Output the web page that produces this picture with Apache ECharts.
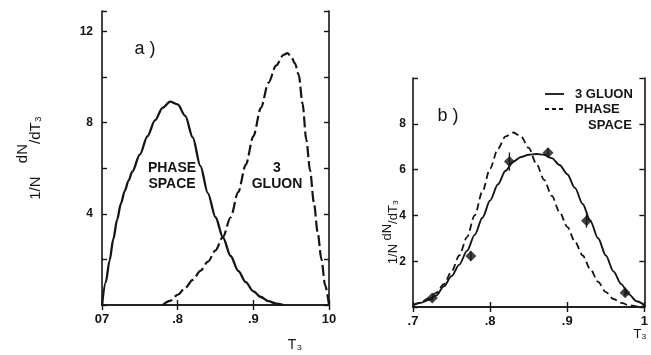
<!DOCTYPE html>
<html>
<head>
<meta charset="utf-8">
<script src="https://cdn.jsdelivr.net/npm/echarts@6/dist/echarts.min.js"></script>
<style>
html, body { margin: 0; padding: 0; background: #fff; }
#chart { width: 651px; height: 355px; }
</style>
</head>
<body>
<div id="chart"></div>
<script>
// panel a) : theory curves
const aPhaseT = [0.700, 0.705, 0.710, 0.715, 0.720, 0.725, 0.730, 0.735, 0.740, 0.750, 0.760, 0.770, 0.780, 0.790, 0.800, 0.810, 0.820, 0.830, 0.840, 0.850, 0.860, 0.870, 0.880, 0.890, 0.900, 0.910, 0.920, 0.930, 0.940]
const aPhaseY = [0, 1.0, 1.95, 2.9, 3.75, 4.45, 5.0, 5.45, 5.85, 6.6, 7.4, 8.1, 8.65, 8.92, 8.8, 8.3, 7.35, 6.1, 4.9, 3.85, 2.95, 2.15, 1.5, 1.0, 0.6, 0.35, 0.17, 0.06, 0]
const aGluonT = [0.780, 0.790, 0.800, 0.810, 0.820, 0.830, 0.840, 0.850, 0.860, 0.870, 0.880, 0.890, 0.900, 0.910, 0.920, 0.930, 0.940, 0.945, 0.950, 0.955, 0.960, 0.965, 0.970, 0.975, 0.980, 0.985, 0.990, 0.995, 1.000]
const aGluonY = [0, 0.18, 0.45, 0.75, 1.1, 1.5, 1.9, 2.4, 3.0, 3.85, 4.95, 6.15, 7.4, 8.65, 9.75, 10.5, 10.98, 11.05, 10.9, 10.6, 10.1, 8.85, 7.25, 5.9, 4.5, 3.2, 2.0, 0.85, 0]

// panel b) : theory curves and data
const bT = [0.70, 0.71, 0.72, 0.73, 0.74, 0.75, 0.76, 0.77, 0.78, 0.79, 0.80, 0.81, 0.82, 0.83, 0.84, 0.85, 0.86, 0.87, 0.88, 0.89, 0.90, 0.91, 0.92, 0.93, 0.94, 0.95, 0.96, 0.97, 0.98, 0.99, 1.00]
const bGluonY = [0.08, 0.18, 0.30, 0.50, 0.90, 1.35, 1.85, 2.45, 3.15, 3.90, 4.65, 5.35, 5.95, 6.35, 6.55, 6.65, 6.68, 6.65, 6.50, 6.20, 5.80, 5.20, 4.50, 3.75, 3.00, 2.25, 1.55, 1.00, 0.55, 0.25, 0.08]
const bPhaseY = [0.08, 0.20, 0.38, 0.62, 1.00, 1.55, 2.25, 3.05, 4.00, 5.05, 6.05, 6.90, 7.45, 7.62, 7.45, 6.95, 6.25, 5.55, 4.85, 4.15, 3.50, 2.85, 2.25, 1.65, 1.10, 0.65, 0.35, 0.18, 0.08, 0.03, 0.02]
const dataT = [0.725, 0.775, 0.825, 0.875, 0.925, 0.975]
const dataY = [0.39, 2.23, 6.35, 6.74, 3.77, 0.62]
const dataErr = [0.1, 0.2, 0.4, 0.2, 0.3, 0.15]

// tick labels
const xTicks = [0.7, 0.8, 0.9, 1.0]
const xLabelsA = ['07', '.8', '.9', '10']
const xLabelsB = ['.7', '.8', '.9', '1']
const yLabelsA = [4, 8, 12]
const yLabelsB = [2, 4, 6, 8]

const ink = '#141414'
const font = 'Liberation Sans'

const pairs = (xs, ys) => xs.map((x, i) => [x, ys[i]])

const tickLabel = (labels) => (v) => {
    const i = xTicks.findIndex(t => Math.abs(t - v) < 1e-6)
    return i >= 0 ? labels[i] : ''
}

const xAxisBase = (grid, pos, labels) => ({
    gridIndex: grid,
    type: 'value',
    position: pos,
    min: 0.7,
    max: 1.0,
    interval: 0.1,
    axisLine: { lineStyle: { color: ink, width: 1.6 } },
    axisTick: { show: true, inside: true, length: 5, lineStyle: { color: ink, width: 1.4 } },
    axisLabel: labels ? {
        formatter: tickLabel(labels),
        color: ink, fontFamily: font, fontSize: 13, fontWeight: 'bold', margin: 8
    } : { show: false },
    splitLine: { show: false }
})

const yAxisBase = (grid, pos, max, labels, margin) => ({
    gridIndex: grid,
    type: 'value',
    position: pos,
    min: 0,
    max: max,
    interval: 2,
    axisLine: { show: true, lineStyle: { color: ink, width: 1.6 } },
    axisTick: { show: true, inside: true, length: 5, lineStyle: { color: ink, width: 1.4 } },
    axisLabel: labels ? {
        formatter: (v) => labels.some(l => Math.abs(l - v) < 1e-6) ? String(v) : '',
        color: ink, fontFamily: font, fontSize: 12, fontWeight: 'bold', margin: margin,
        showMaxLabel: true
    } : { show: false },
    splitLine: { show: false }
})

const txt = (x, y, text, size, weight, align) => ({
    type: 'text', x: x, y: y,
    style: {
        text: text, fill: ink,
        font: (weight || 'bold') + ' ' + size + 'px "' + font + '"',
        align: align || 'center', verticalAlign: 'middle'
    }
})

// rotated y axis title with raised dN and lowered /dT3
const yTitle = (x, y, size, lh, gap) => ({
    type: 'text', x: x, y: y, rotation: Math.PI / 2,
    style: {
        text: '{f|1/N}' + gap + '{u|dN}{d|/dT₃}', fill: ink, align: 'center', verticalAlign: 'middle',
        rich: {
            f: { fontFamily: font, fontSize: size, fill: ink, verticalAlign: 'bottom', lineHeight: lh },
            u: { fontFamily: font, fontSize: size, fill: ink, verticalAlign: 'top', lineHeight: lh },
            d: { fontFamily: font, fontSize: size, fill: ink, verticalAlign: 'bottom', lineHeight: lh }
        }
    }
})

const chart = echarts.init(document.getElementById('chart'))
chart.setOption({
    animation: false,
    backgroundColor: '#fff',
    grid: [
        { left: 102, top: 11, width: 227, height: 294 },
        { left: 413, top: 78, width: 233, height: 229 }
    ],
    xAxis: [
        xAxisBase(0, 'bottom', xLabelsA),
        xAxisBase(0, 'top', null),
        xAxisBase(1, 'bottom', xLabelsB),
        xAxisBase(1, 'top', null)
    ],
    yAxis: [
        yAxisBase(0, 'left', 12.9, yLabelsA, 9),
        yAxisBase(0, 'right', 12.9, null),
        yAxisBase(1, 'left', 10, yLabelsB, 7),
        yAxisBase(1, 'right', 10, null)
    ],
    series: [
        {
            name: 'a PHASE SPACE', type: 'line', xAxisIndex: 0, yAxisIndex: 0,
            data: pairs(aPhaseT, aPhaseY), smooth: 0.3, smoothMonotone: 'x', symbol: 'none',
            lineStyle: { color: ink, width: 2.3 }
        },
        {
            name: 'a 3 GLUON', type: 'line', xAxisIndex: 0, yAxisIndex: 0,
            data: pairs(aGluonT, aGluonY), smooth: 0.3, smoothMonotone: 'x', symbol: 'none',
            lineStyle: { color: ink, width: 2.2, type: [11, 4] }
        },
        {
            name: '3 GLUON', type: 'line', xAxisIndex: 2, yAxisIndex: 2,
            data: pairs(bT, bGluonY), smooth: 0.3, smoothMonotone: 'x', symbol: 'none',
            lineStyle: { color: ink, width: 1.9 }
        },
        {
            name: 'PHASE SPACE', type: 'line', xAxisIndex: 2, yAxisIndex: 2,
            data: pairs(bT, bPhaseY), smooth: 0.3, smoothMonotone: 'x', symbol: 'none',
            lineStyle: { color: ink, width: 1.8, type: [7, 4] }
        },
        {
            name: 'errors', type: 'custom', xAxisIndex: 2, yAxisIndex: 2,
            data: dataT.map((t, i) => [t, dataY[i] - dataErr[i], dataY[i] + dataErr[i]]),
            renderItem: (params, api) => {
                const lo = api.coord([api.value(0), api.value(1)])
                const hi = api.coord([api.value(0), api.value(2)])
                return {
                    type: 'line',
                    shape: { x1: lo[0], y1: lo[1], x2: hi[0], y2: hi[1] },
                    style: { stroke: ink, lineWidth: 1.3 }
                }
            },
            z: 3
        },
        {
            name: 'data', type: 'scatter', xAxisIndex: 2, yAxisIndex: 2,
            data: pairs(dataT, dataY), symbol: 'diamond', symbolSize: 11,
            itemStyle: { color: ink }, z: 4
        }
    ],
    graphic: [
        // panel a) texts
        yTitle(29, 158, 15, 28, '    '),
        txt(145, 49, 'a )', 18, 'normal'),
        txt(172, 168, 'PHASE', 14),
        txt(172, 184, 'SPACE', 14),
        txt(277, 168, '3', 14),
        txt(277, 184, 'GLUON', 14),
        txt(295, 345, 'T₃', 14, 'normal'),
        // panel b) texts and key
        yTitle(390, 232, 13, 19, ' '),
        txt(448, 116, 'b )', 18, 'normal'),
        { type: 'line', shape: { x1: 545, y1: 94, x2: 564, y2: 94 }, style: { stroke: ink, lineWidth: 1.8 } },
        { type: 'line', shape: { x1: 545, y1: 109, x2: 566, y2: 109 }, style: { stroke: ink, lineWidth: 1.8, lineDash: [4, 3] } },
        txt(575, 94, '3 GLUON', 13, 'bold', 'left'),
        txt(575, 109, 'PHASE', 13, 'bold', 'left'),
        txt(588, 125, 'SPACE', 13, 'bold', 'left'),
        txt(640, 334, 'T₃', 13, 'normal')
    ]
})
</script>
</body>
</html>
